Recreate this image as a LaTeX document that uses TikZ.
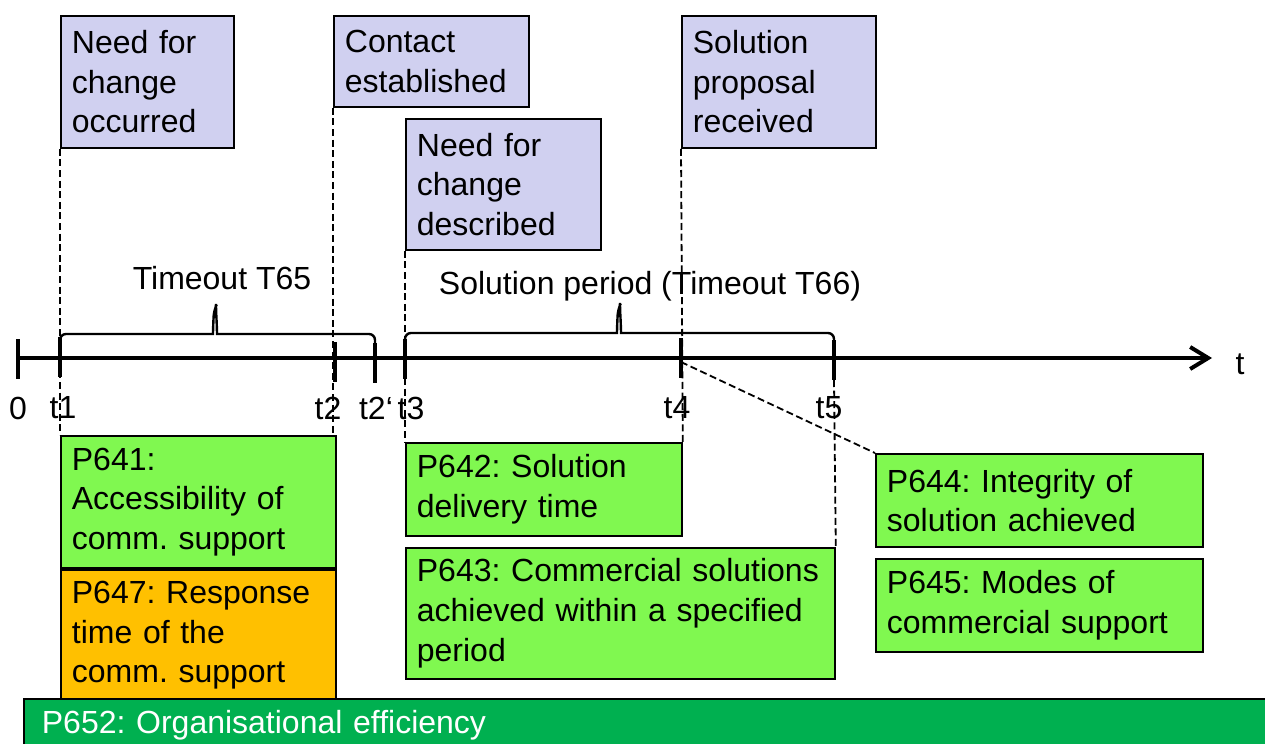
\documentclass[tikz,border=0pt]{standalone}
\usepackage{fontspec}
\setmainfont{Liberation Sans}
\frenchspacing
\usetikzlibrary{arrows.meta,positioning}
\definecolor{eventblue}{RGB}{208,208,240}
\definecolor{kpigreen}{RGB}{128,248,80}
\definecolor{kpiorange}{RGB}{255,192,0}
\definecolor{kpidark}{RGB}{0,176,80}
\tikzset{
  >={Straight Barb[length=9pt,width=11pt]},
  event/.style={
    rectangle,
    draw=black, line width=0.9pt,
    fill=eventblue,
    anchor=north west,
    align=left,
    inner xsep=5.5pt, inner ysep=0pt},
  kpi/.style={
    rectangle,
    draw=black, line width=0.9pt,
    fill=kpigreen,
    anchor=north west,
    align=left,
    inner xsep=5.5pt, inner ysep=0pt},
  axisline/.style={line width=2pt},
  tickline/.style={line width=2.4pt},
  braceline/.style={line width=1.2pt, rounded corners=3pt},
  guide/.style={line width=0.9pt, dash pattern=on 3.5pt off 1.8pt},
}

\begin{document}
\begin{tikzpicture}[x=0.5pt, y=-0.5pt, font=\fontsize{16}{19.8}\selectfont]
    \useasboundingbox (0,0) rectangle (1265,744);
    \clip (0,0) rectangle (1265,744);

    % time axis
    \coordinate (t0) at (18,358);
    \coordinate (t1) at (60,358);
    \coordinate (t2) at (335,358);
    \coordinate (t2p) at (375,358);
    \coordinate (t3) at (405,358);
    \coordinate (t4) at (681,358);
    \coordinate (t5) at (834,358);
    \coordinate (tend) at (1212,358);

    \draw[axisline,->] (t0) -- (tend);
    \foreach \tk/\up in {t0/19,t1/21,t2/16,t2p/15,t3/19,t4/20,t5/18}
      \draw[tickline] (\tk) ++(0,-\up) -- ++(0,40);

    \node (l0) at (18,408) {0};
    \node (l1) at (63,408) {t1};
    \node (l2) at (328,408) {t2};
    \node (l2p) at (376,408) {t2‘};
    \node (l3) at (411,408) {t3};
    \node (l4) at (677,408) {t4};
    \node (l5) at (829,408) {t5};
    \node (lt) at (1240,364) {t};

    % periods
    \draw[braceline] (t1) ++(0,-18) |- (207,334)
      .. controls (213,334) and (213,328) .. (214,310)
      .. controls (215,308) and (216,308) .. (216,310)
      .. controls (217,328) and (217,334) .. (223,334) -| (375,346);
    \draw[braceline] (t3) ++(0,-18) |- (611,333)
      .. controls (617,333) and (617,327) .. (618,309)
      .. controls (619,307) and (620,307) .. (620,309)
      .. controls (621,327) and (621,333) .. (627,333) -| (834,344);
    \node (per65) at (222,278) {Timeout T65};
    \node (per66) at (650,286) {Solution period (Timeout T66)};

    % events
    \node[event, minimum width=86.5pt, minimum height=66pt, text width=75.5pt] (occ) at (60,15) {Need for\\change\\occurred};
    \node[event, minimum width=97.5pt, minimum height=45.5pt, text width=86.5pt] (contact) at (333,15) {Contact\\established};
    \node[event, minimum width=97.5pt, minimum height=65.5pt, text width=86.5pt] (described) at (405,118) {Need for\\change\\described};
    \node[event, minimum width=97pt, minimum height=66pt, text width=86pt] (proposal) at (681,15) {Solution\\proposal\\received};

    % indicators
    \node[kpi, minimum width=137.5pt, minimum height=66pt, text width=126.5pt] (p641) at (60,435) {P641:\\Accessibility of\\comm. support};
    \node[kpi, fill=kpiorange, minimum width=137.5pt, minimum height=65.5pt, text width=126.5pt, below=0pt of p641] (p647) {P647: Response\\time of the\\comm. support};
    \node[kpi, minimum width=138pt, minimum height=46.5pt, text width=127pt] (p642) at (405,442) {P642: Solution\\delivery time};
    \node[kpi, minimum width=214.5pt, minimum height=65.5pt, text width=203.5pt, below right=5pt and 0pt of p642.south west] (p643) {P643: Commercial solutions\\achieved within a specified\\period};
    \node[kpi, minimum width=163.5pt, minimum height=46.5pt, text width=152.5pt] (p644) at (875,453) {P644: Integrity of\\solution achieved};
    \node[kpi, minimum width=163.5pt, minimum height=46.5pt, text width=152.5pt, below=5pt of p644] (p645) {P645: Modes of\\commercial support};
    \node[kpi, fill=kpidark, text=white, inner xsep=9pt, minimum width=640pt, minimum height=26pt, text width=622pt] (p652) at (23,698) {P652: Organisational efficiency};

    % guide lines
    \draw[guide] (occ.south west) -- (p641.north west);
    \draw[guide] (contact.south west) -- (contact.south west |- p641.north);
    \draw[guide] (described.south west) -- (p642.north west);
    \draw[guide] (proposal.south west) -- (p642.north east);
    \draw[guide] (t5) ++(0,22) -- (p643.north east);
    \draw[guide] (t4) ++(0,4) -- (p644.north west);
\end{tikzpicture}
\end{document}
